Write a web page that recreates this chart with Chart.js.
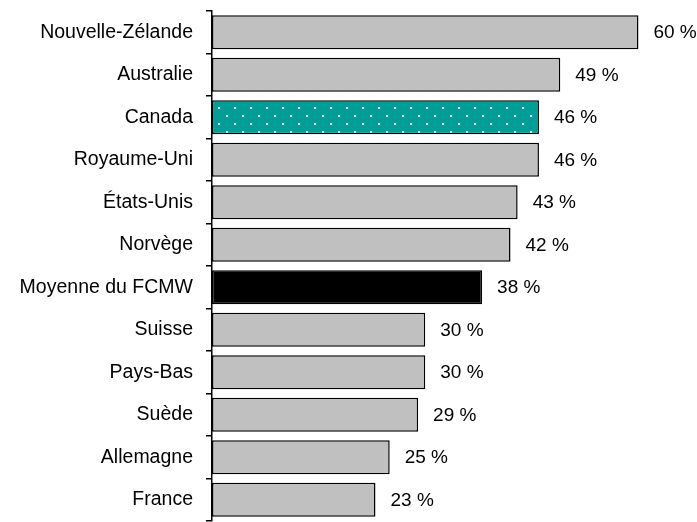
<!DOCTYPE html>
<html>
<head>
<meta charset="utf-8">
<script src="https://cdn.jsdelivr.net/npm/chart.js@4/dist/chart.umd.min.js"></script>
<style>
  html, body { margin: 0; padding: 0; background: #fff; }
  #wrap { width: 697px; height: 522px; position: relative; }
</style>
</head>
<body>
<div id="wrap"><canvas id="c"></canvas></div>
<script>
const categories = ["Nouvelle-Zélande", "Australie", "Canada", "Royaume-Uni", "États-Unis", "Norvège",
  "Moyenne du FCMW", "Suisse", "Pays-Bas", "Suède", "Allemagne", "France"];
const values = [60, 49, 46, 46, 43, 42, 38, 30, 30, 29, 25, 23];
const valueLabels = ["60 %", "49 %", "46 %", "46 %", "43 %", "42 %", "38 %", "30 %", "30 %", "29 %", "25 %", "23 %"];

// Dotted teal pattern for Canada
const pc = document.createElement('canvas');
pc.width = 16; pc.height = 16;
const pctx = pc.getContext('2d');
pctx.fillStyle = '#009E96';
pctx.fillRect(0, 0, 16, 16);
pctx.fillStyle = '#ffffff';
pctx.fillRect(2, 3, 2, 2);
pctx.fillRect(10, 11, 2, 2);
const teal = document.getElementById('c').getContext('2d').createPattern(pc, 'repeat');

const colors = categories.map(c => c === 'Canada' ? teal : (c === 'Moyenne du FCMW' ? '#000000' : '#C0C0C0'));

Chart.defaults.font.family = "'Liberation Sans', Arial, sans-serif";
Chart.defaults.font.size = 18;
Chart.defaults.color = '#000';

const labelPlugin = {
  id: 'valLabels',
  afterDatasetsDraw(chart) {
    const ctx = chart.ctx;
    const meta = chart.getDatasetMeta(0);
    ctx.save();
    ctx.font = "19px 'Liberation Sans', Arial, sans-serif";
    ctx.fillStyle = '#000';
    ctx.textAlign = 'left';
    ctx.textBaseline = 'middle';
    meta.data.forEach((el, i) => {
      ctx.fillText(valueLabels[i], el.x + 15, el.y + 1);
    });
    ctx.restore();
  }
};

new Chart(document.getElementById('c'), {
  type: 'bar',
  data: {
    labels: categories,
    datasets: [{
      data: values,
      backgroundColor: colors,
      borderColor: '#000',
      borderWidth: 1.5,
      borderSkipped: false,
      barPercentage: 0.8,
      categoryPercentage: 1.0
    }]
  },
  options: {
    indexAxis: 'y',
    responsive: true,
    maintainAspectRatio: false,
    animation: false,
    layout: { padding: { top: 11, bottom: 1, left: 0, right: 23 } },
    plugins: { legend: { display: false }, tooltip: { enabled: false } },
    scales: {
      x: { display: false, min: 0, max: 65 },
      y: {
        afterFit(scale) { scale.width = 212; scale.paddingTop = 0; scale.paddingBottom = 0; },
        border: { display: true, color: '#000', width: 1.5 },
        grid: { display: true, offset: true, drawOnChartArea: false, drawTicks: true, tickLength: 6, color: '#000', lineWidth: 1.5 },
        ticks: { padding: 13, color: '#000', font: { size: 19.5 } }
      }
    }
  },
  plugins: [labelPlugin]
});
</script>
</body>
</html>
